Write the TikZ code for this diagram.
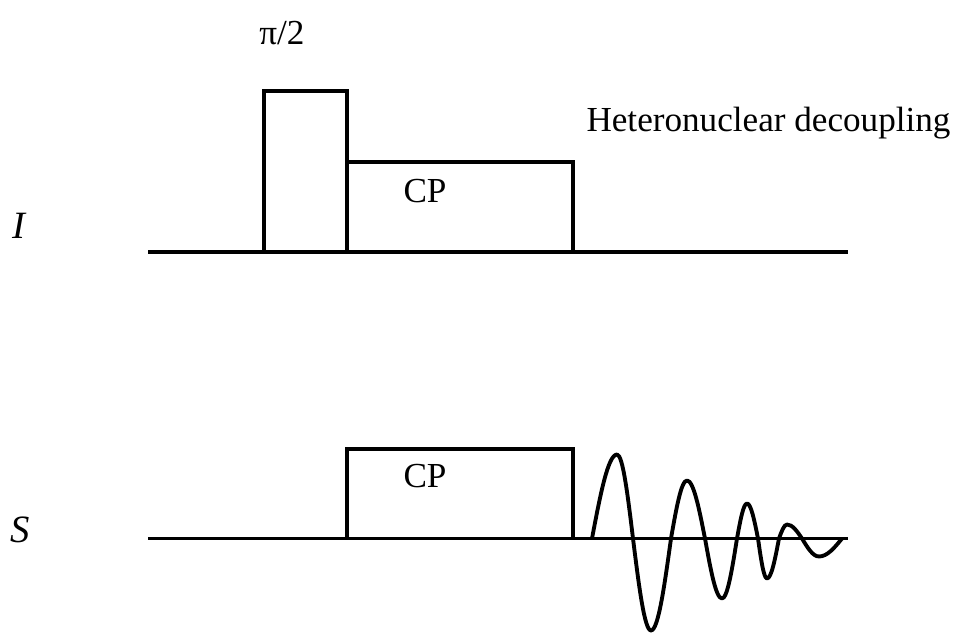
\documentclass[tikz,border=0pt]{standalone}
\usepackage{fontspec}
\setmainfont{Liberation Serif}
\tikzset{
  seq/.style={line width=2.2pt, line join=miter},
  lbl/.style={font=\fontsize{20}{24}\selectfont, inner sep=0pt},
  chan/.style={font=\fontsize{22}{26}\selectfont\itshape, inner sep=0pt},
}
\begin{document}
\begin{tikzpicture}
  \useasboundingbox (0,0) rectangle (19.28,12.7);

  % I channel
  \node[chan] (chI) at (0.38,8.18) {I};
  \coordinate (Ia) at (2.96,7.66);
  \coordinate (Ib) at (16.96,7.66);
  \draw[seq] (Ia) -- (Ib);

  \draw[seq] (5.28,7.66) |- (6.94,10.88) -- (6.94,7.66);
  \draw[seq] (6.94,9.46) -| (11.46,7.66);

  \node[lbl] (pulse) at (5.64,12.04) {π/2};
  \node[lbl] (cpI) at (8.5,8.88) {CP};
  \node[lbl] (dec) at (15.37,10.24) {Heteronuclear decoupling};

  % S channel
  \node[chan] (chS) at (0.40,2.10) {S};
  \coordinate (Sa) at (2.96,1.93);
  \coordinate (Sb) at (16.96,1.93);
  \draw[seq] (Sa) -- (Sb);

  \draw[seq] (6.94,1.93) |- (11.46,3.72) -- (11.46,1.93);
  \node[lbl] (cpS) at (8.5,3.18) {CP};

  % FID
  \draw[seq, line join=round, shift={(0,1.93)}]
    (11.84,0) sin (12.34,1.68) cos (12.66,0) sin (13.02,-1.84) cos (13.42,0)
    sin (13.74,1.16) cos (14.10,0) sin (14.44,-1.20) cos (14.74,0)
    sin (14.94,0.70) cos (15.16,0) sin (15.34,-0.80) cos (15.58,0)
    sin (15.74,0.28) cos (16.04,0) sin (16.38,-0.36) cos (16.84,0);

\end{tikzpicture}
\end{document}
